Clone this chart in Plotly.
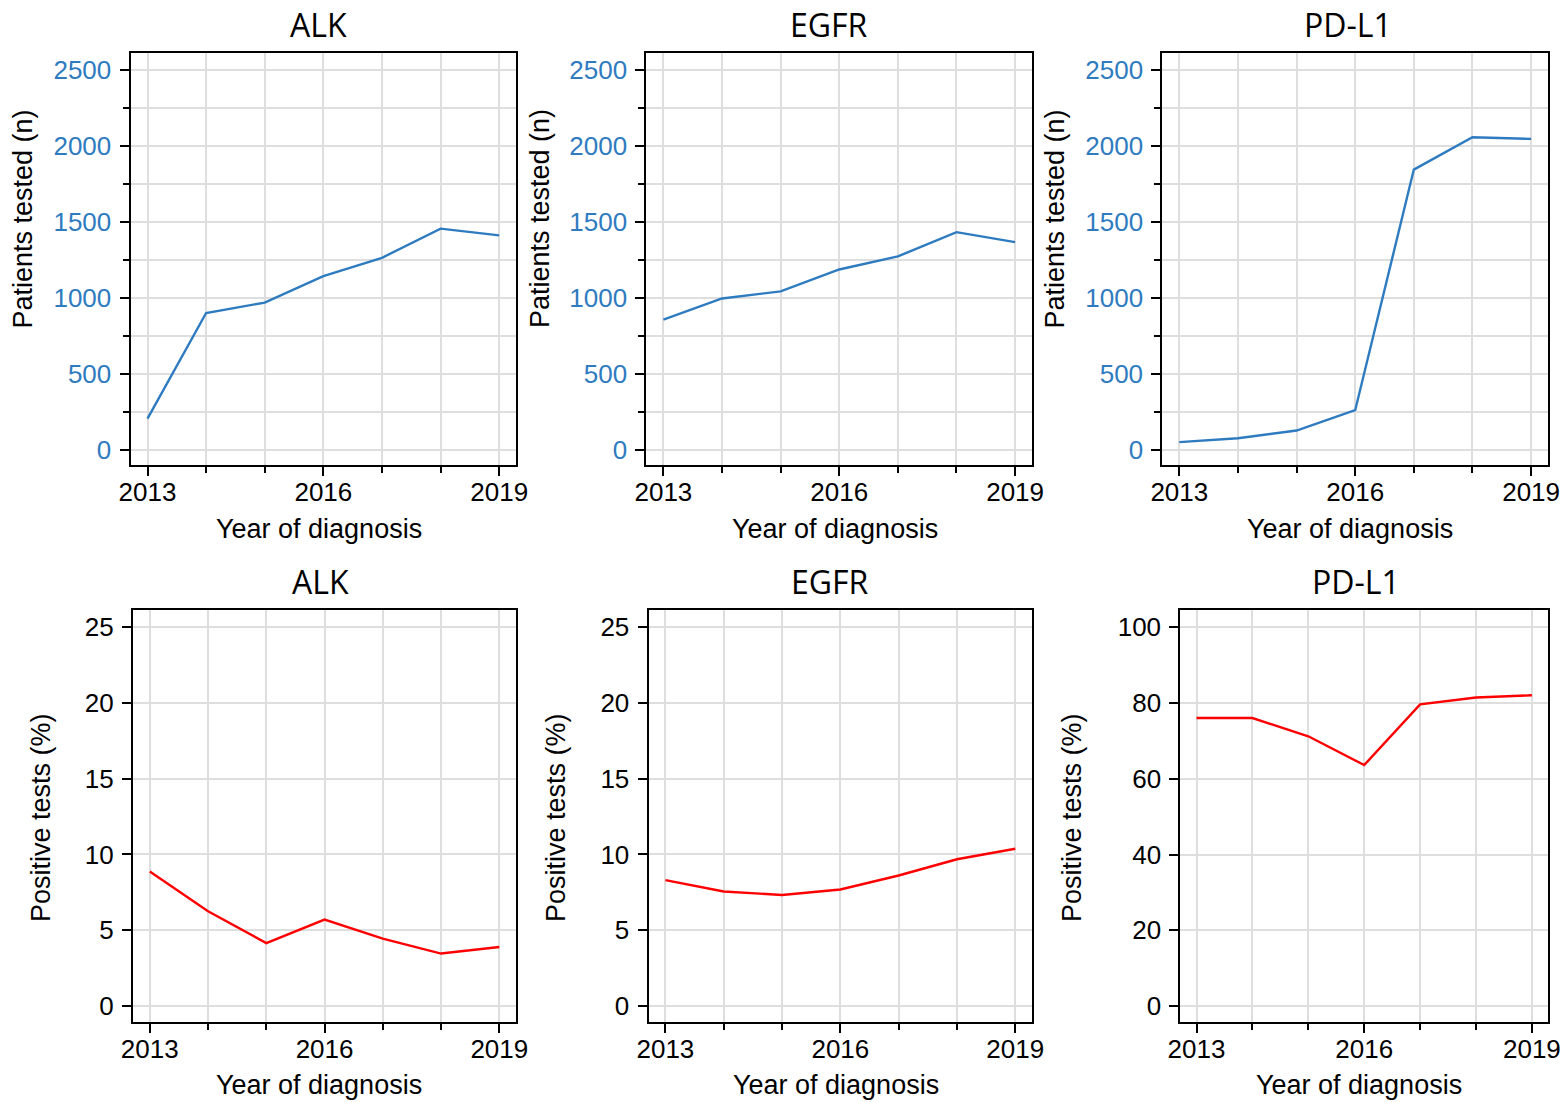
import plotly.graph_objects as go

# ---- data -------------------------------------------------------------
years = [2013, 2014, 2015, 2016, 2017, 2018, 2019]

tested_alk = [204, 899, 968, 1142, 1263, 1455, 1411]
tested_egfr = [855, 995, 1042, 1186, 1272, 1432, 1366]
tested_pdl1 = [49, 74, 125, 259, 1844, 2057, 2046]

positive_alk = [8.88, 6.26, 4.16, 5.71, 4.45, 3.47, 3.90]
positive_egfr = [8.31, 7.56, 7.33, 7.69, 8.61, 9.68, 10.37]
positive_pdl1 = [76.0, 76.0, 71.2, 63.6, 79.6, 81.4, 82.0]

markers = ["ALK", "EGFR", "PD-L1"]
x_ticks = [2013, 2016, 2019]
top_y_ticks = [0, 500, 1000, 1500, 2000, 2500]
pct_y_ticks = [0, 5, 10, 15, 20, 25]
pdl1_y_ticks = [0, 20, 40, 60, 80, 100]

# ---- styling ----------------------------------------------------------
W, H = 1562, 1102
BLUE = "#2e7bc0"
RED = "#ff0000"
GRID = "#dedede"
TICK_FONT = "Liberation Sans, Arial, sans-serif"
TITLE_FONT = "Open Sans, Noto Sans, sans-serif"


def px_x(p):
    return p / W


def px_y(p):
    return 1 - p / H


fig = go.Figure()

top_series = [tested_alk, tested_egfr, tested_pdl1]
bottom_series = [positive_alk, positive_egfr, positive_pdl1]

# panel frames in pixels (left, right)
top_x_px = [(130.5, 516.2), (646.4, 1032.1), (1162.3, 1548.1)]
bottom_x_px = [(132.9, 516.2), (648.5, 1032.2), (1180.3, 1548.1)]
top_y_px = (53, 465)
bottom_y_px = (610, 1021.7)

x_range = [2012.71, 2019.29]

for i, vals in enumerate(top_series):
    n = i + 1
    fig.add_trace(go.Scatter(x=years, y=vals, mode="lines",
                             line=dict(color=BLUE, width=2.4),
                             xaxis=f"x{n}", yaxis=f"y{n}", showlegend=False))
for i, vals in enumerate(bottom_series):
    n = i + 4
    fig.add_trace(go.Scatter(x=years, y=vals, mode="lines",
                             line=dict(color=RED, width=2.4),
                             xaxis=f"x{n}", yaxis=f"y{n}", showlegend=False))


def x_axis(domain, anchor):
    return dict(
        domain=[px_x(domain[0]), px_x(domain[1])], anchor=anchor,
        automargin=False,
        range=x_range, tickmode="array", tickvals=x_ticks,
        ticks="outside", ticklen=9, tickwidth=1.5, tickcolor="black",
        ticklabelstandoff=-6,
        tickfont=dict(family=TICK_FONT, size=26, color="black"),
        showline=True, mirror=True, linecolor="black", linewidth=2,
        showgrid=True, gridcolor=GRID, gridwidth=2, zeroline=False,
        minor=dict(tickmode="linear", tick0=2013, dtick=1, ticks="outside",
                   ticklen=6, tickwidth=1.5, tickcolor="black",
                   showgrid=True, gridcolor=GRID, gridwidth=2),
    )


def y_axis(domain, anchor, rng, tickvals, color, minor_dtick=None):
    ax = dict(
        domain=[px_y(domain[1]), px_y(domain[0])], anchor=anchor,
        automargin=False,
        range=rng, tickmode="array", tickvals=tickvals,
        ticks="outside", ticklen=9, tickwidth=1.5, tickcolor="black",
        ticklabelstandoff=3,
        tickfont=dict(family=TICK_FONT, size=26, color=color),
        showline=True, mirror=True, linecolor="black", linewidth=2,
        showgrid=True, gridcolor=GRID, gridwidth=2, zeroline=False,
    )
    if minor_dtick:
        ax["minor"] = dict(tickmode="linear", tick0=0, dtick=minor_dtick,
                           ticks="outside", ticklen=6, tickwidth=1.5,
                           tickcolor="black", showgrid=True,
                           gridcolor=GRID, gridwidth=2)
    return ax


layout = {}
for i in range(3):
    n = i + 1
    layout[f"xaxis{n}"] = x_axis(top_x_px[i], f"y{n}")
    layout[f"yaxis{n}"] = y_axis(top_y_px, f"x{n}", [-102, 2612],
                                 top_y_ticks, BLUE, minor_dtick=250)
for i in range(3):
    n = i + 4
    layout[f"xaxis{n}"] = x_axis(bottom_x_px[i], f"y{n}")
    if i < 2:
        layout[f"yaxis{n}"] = y_axis(bottom_y_px, f"x{n}", [-1.02, 26.1],
                                     pct_y_ticks, "black")
    else:
        layout[f"yaxis{n}"] = y_axis(bottom_y_px, f"x{n}", [-4.1, 104.5],
                                     pdl1_y_ticks, "black")

annotations = []


def label(text, x, y, size, family, angle=0):
    annotations.append(dict(
        text=text, x=px_x(x), y=px_y(y), xref="paper", yref="paper",
        xanchor="center", yanchor="middle", showarrow=False,
        textangle=angle, font=dict(family=family, size=size, color="black"),
    ))


# panel titles
for name, cx in zip(markers, [318, 829, 1348]):
    label(name, cx, 24, 32, TITLE_FONT)
for name, cx in zip(markers, [320, 830, 1356]):
    label(name, cx, 581.5, 32, TITLE_FONT)

# x-axis titles
for cx in [318.6, 834.5, 1350]:
    label("Year of diagnosis", cx, 529, 27, TICK_FONT)
for cx in [319, 835.5, 1359]:
    label("Year of diagnosis", cx, 1085, 27, TICK_FONT)

# y-axis titles
for cx in [22.5, 540, 1054.6]:
    label("Patients tested (n)", cx, 219, 27, TICK_FONT, angle=-90)
for cx in [41, 556, 1072]:
    label("Positive tests (%)", cx, 818, 27, TICK_FONT, angle=-90)

fig.update_layout(
    width=W, height=H,
    margin=dict(l=0, r=0, t=0, b=0, autoexpand=False),
    paper_bgcolor="white", plot_bgcolor="white",
    annotations=annotations,
    **layout,
)

fig.write_html("out.html")
